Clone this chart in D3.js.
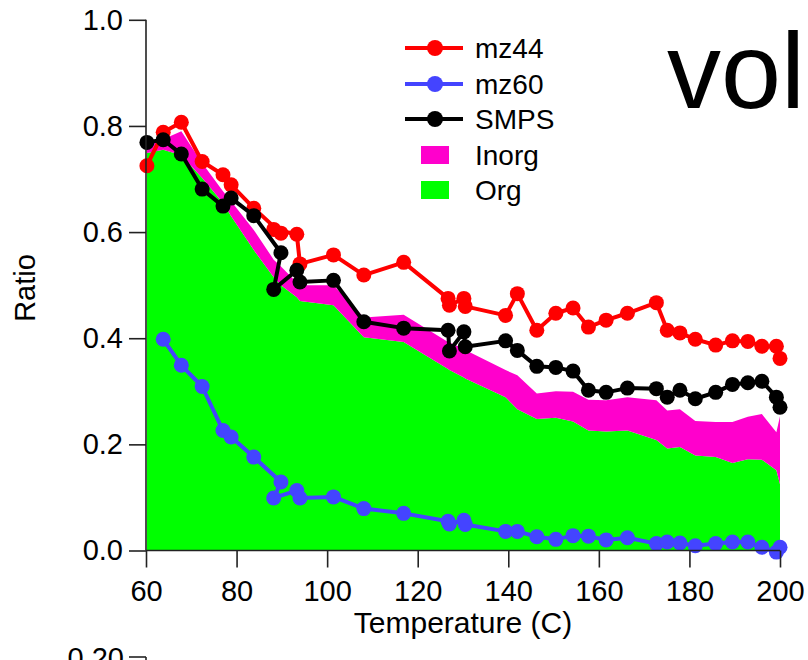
<!DOCTYPE html>
<html>
<head>
<meta charset="utf-8">
<script src="https://cdn.jsdelivr.net/npm/d3@7"></script>
<style>
html,body{margin:0;padding:0;background:#fff;}
svg{display:block;font-family:"Liberation Sans",Arial,Helvetica,sans-serif;}
</style>
</head>
<body>
<svg id="chart" width="808" height="660"></svg>
<script>
// ---- data ----
const temps = [60.2, 63.8, 67.8, 72.4, 77.0, 78.8, 83.8, 89.8, 88.2, 93.3, 94.0, 101.4, 108.1, 116.9,
  126.7, 127.0, 130.2, 130.5, 139.4, 142.0, 146.3, 150.5, 154.3, 157.7, 161.6, 166.3, 172.7, 175.1,
  177.9, 181.3, 185.8, 189.5, 192.9, 196.0, 199.2, 200.0];
const mz44 = [0.725, 0.788, 0.807, 0.733, 0.708, 0.689, 0.645, 0.598, 0.605, 0.596, 0.540, 0.557, 0.519, 0.543,
  0.475, 0.462, 0.475, 0.460, 0.443, 0.484, 0.415, 0.447, 0.457, 0.421, 0.434, 0.447, 0.467, 0.415,
  0.410, 0.398, 0.387, 0.395, 0.394, 0.385, 0.385, 0.362];
const mz60 = [null, 0.398, 0.349, 0.309, 0.226, 0.214, 0.176, 0.129, 0.099, 0.113, 0.099, 0.101, 0.079, 0.070,
  0.055, 0.050, 0.057, 0.049, 0.036, 0.036, 0.026, 0.021, 0.028, 0.027, 0.020, 0.024, 0.013, 0.016,
  0.014, 0.009, 0.013, 0.016, 0.016, 0.006, -0.003, 0.006];
const smps = [0.769, 0.774, 0.747, 0.681, 0.649, 0.664, 0.631, 0.561, 0.492, 0.528, 0.506, 0.509, 0.431, 0.419,
  0.415, 0.376, 0.412, 0.384, 0.395, 0.377, 0.347, 0.345, 0.338, 0.302, 0.298, 0.306, 0.305, 0.289,
  0.302, 0.286, 0.298, 0.313, 0.316, 0.319, 0.289, 0.270];
// stacked areas (sorted temperatures)
const areaTemps = [60.2, 63.8, 67.8, 72.4, 77.0, 78.8, 83.8, 88.2, 89.8, 93.3, 94.0, 101.4, 108.1, 116.9,
  126.7, 127.0, 130.2, 130.5, 139.4, 142.0, 146.3, 150.5, 154.3, 157.7, 161.6, 166.3, 172.7, 175.1,
  177.9, 181.3, 185.8, 189.5, 192.9, 196.0, 199.2, 200.0];
const org = [0.749, 0.755, 0.745, 0.702, 0.655, 0.630, 0.566, 0.515, 0.500, 0.477, 0.470, 0.462, 0.402, 0.393,
  0.342, 0.340, 0.326, 0.324, 0.289, 0.266, 0.248, 0.250, 0.243, 0.226, 0.224, 0.226, 0.208, 0.192,
  0.195, 0.179, 0.176, 0.165, 0.172, 0.171, 0.151, 0.125];
const inorg = [0.016, 0.020, 0.045, 0.028, 0.022, 0.028, 0.038, 0.033, 0.035, 0.028, 0.030, 0.038, 0.037, 0.051,
  0.051, 0.052, 0.054, 0.054, 0.051, 0.064, 0.048, 0.050, 0.056, 0.058, 0.059, 0.063, 0.075, 0.072,
  0.071, 0.065, 0.066, 0.077, 0.080, 0.086, 0.072, 0.128];
const xTicks = [60, 80, 100, 120, 140, 160, 180, 200];
const yTicks = [0.0, 0.2, 0.4, 0.6, 0.8, 1.0];
const legendItems = ["mz44", "mz60", "SMPS", "Inorg", "Org"];
const colors = {mz44: "#ff0000", mz60: "#4444ff", SMPS: "#000000", Inorg: "#ff00cc", Org: "#00ff00"};

// ---- chart ----
const svg = d3.select("#chart");
const x = d3.scaleLinear().domain([60, 200]).range([146, 780]);
const y = d3.scaleLinear().domain([0, 1]).range([550.5, 19.8]);

const areaData = areaTemps.map((t, i) => ({t, org: org[i], tot: org[i] + inorg[i]}));
svg.append("path").datum(areaData)
  .attr("fill", colors.Org)
  .attr("d", d3.area().x(d => x(d.t)).y0(y(0)).y1(d => y(d.org)));
svg.append("path").datum(areaData)
  .attr("fill", colors.Inorg)
  .attr("d", d3.area().x(d => x(d.t)).y0(d => y(d.org)).y1(d => y(d.tot)));

function series(vals, color) {
  const pts = temps.map((t, i) => ({t, v: vals[i]})).filter(d => d.v != null);
  const g = svg.append("g");
  g.append("path").datum(pts).attr("fill", "none").attr("stroke", color)
    .attr("stroke-width", 4).attr("stroke-linejoin", "round")
    .attr("d", d3.line().x(d => x(d.t)).y(d => y(d.v)));
  g.selectAll("circle").data(pts).join("circle")
    .attr("cx", d => x(d.t)).attr("cy", d => y(d.v)).attr("r", 7.5).attr("fill", color);
}
series(mz60, colors.mz60);
series(mz44, colors.mz44);
series(smps, colors.SMPS);

// axes
const axisColor = "#222";
const xAxis = svg.append("g").attr("transform", `translate(0,${y(0)})`)
  .call(d3.axisBottom(x).tickValues(xTicks).tickSize(17).tickPadding(6).tickFormat(d3.format("d")));
const yAxis = svg.append("g").attr("transform", `translate(${x(60)},0)`)
  .call(d3.axisLeft(y).tickValues(yTicks).tickSize(17).tickPadding(6).tickFormat(d3.format(".1f")));
[xAxis, yAxis].forEach(a => {
  a.select(".domain").attr("stroke", axisColor).attr("stroke-width", 1.6);
  a.selectAll(".tick line").attr("stroke", axisColor).attr("stroke-width", 1.6);
  a.selectAll(".tick text").attr("fill", "#000").style("font-size", "29px")
    .style("font-family", '"Liberation Sans",Arial,sans-serif');
});
xAxis.select(".domain").attr("d", `M${x(60)},0H${x(200)}`);
yAxis.select(".domain").attr("d", `M0,${y(1)}V${y(0)}`);
xAxis.selectAll(".tick text").attr("dy", "0.95em");

svg.append("text").attr("x", 463).attr("y", 633).attr("text-anchor", "middle")
  .style("font-size", "30px").text("Temperature (C)");
svg.append("text").attr("transform", "translate(35,288) rotate(-90)").attr("text-anchor", "middle")
  .style("font-size", "29px").text("Ratio");

// big label
svg.append("text").attr("x", 667).attr("y", 108).style("font-size", "108px").text("vol");

// legend
const legY = [48, 84, 119, 155, 190];
legendItems.forEach((k, i) => {
  const g = svg.append("g");
  if (i < 3) {
    g.append("line").attr("x1", 405).attr("x2", 463).attr("y1", legY[i]).attr("y2", legY[i])
      .attr("stroke", colors[k]).attr("stroke-width", 4);
    g.append("circle").attr("cx", 435).attr("cy", legY[i]).attr("r", 8).attr("fill", colors[k]);
  } else {
    g.append("rect").attr("x", 421).attr("y", legY[i] - 9).attr("width", 28).attr("height", 18)
      .attr("fill", colors[k]);
  }
  g.append("text").attr("x", 475).attr("y", legY[i] + 10).style("font-size", "28px").text(k);
});

// top of the next panel (cut off at the bottom edge, as in the reference)
svg.append("text").attr("x", 124).attr("y", 668).attr("text-anchor", "end")
  .style("font-size", "29px").text("0.20");
svg.append("line").attr("x1", 129).attr("x2", 146).attr("y1", 657).attr("y2", 657)
  .attr("stroke", axisColor).attr("stroke-width", 1.6);
svg.append("line").attr("x1", 146).attr("x2", 146).attr("y1", 657).attr("y2", 660)
  .attr("stroke", axisColor).attr("stroke-width", 1.6);
</script>
</body>
</html>
